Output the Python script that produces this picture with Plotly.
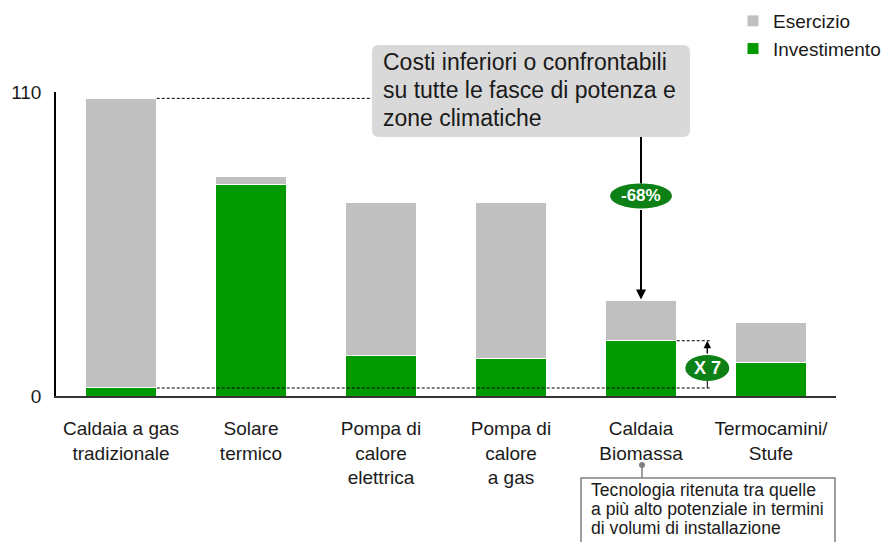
import plotly.graph_objects as go

categories = [
    "Caldaia a gas<br>tradizionale",
    "Solare<br>termico",
    "Pompa di<br>calore<br>elettrica",
    "Pompa di<br>calore<br>a gas",
    "Caldaia<br>Biomassa",
    "Termocamini/<br>Stufe",
]
investimento = [2.9, 76.5, 14.8, 13.7, 20.0, 12.3]
esercizio = [104.8, 2.8, 55.2, 56.3, 14.6, 14.4]
totale = [i + e for i, e in zip(investimento, esercizio)]

callout_lines = [
    "Costi inferiori o confrontabili",
    "su tutte le fasce di potenza e",
    "zone climatiche",
]
note_lines = [
    "Tecnologia ritenuta tra quelle",
    "a più alto potenziale in termini",
    "di volumi di installazione",
]

GREEN = "#009a00"
GREY = "#c0c0c0"
DARK_GREEN = "#0d8016"
FONT = "Liberation Sans, Arial, sans-serif"

# the page body has an 8px margin, so the figure is offset inside the window
OFF = 8
W, H = 893, 542
ML, MT = 56 - OFF, 92 - OFF
MR, MB = W - (836 - OFF), H - (396 - OFF)
PW, PH = W - ML - MR, H - MT - MB
BAR_W = 0.55


def px_x(px):
    # window pixel -> paper x
    return (px - OFF - ML) / PW


def px_y(py):
    # window pixel -> paper y
    return (H - MB - (py - OFF)) / PH


x = list(range(len(categories)))

fig = go.Figure()
fig.add_trace(go.Bar(x=x, y=investimento, name="Investimento", width=BAR_W,
                     marker=dict(color=GREEN, line=dict(color="white", width=1))))
fig.add_trace(go.Bar(x=x, y=esercizio, name="Esercizio", width=BAR_W,
                     marker=dict(color=GREY, line=dict(color="white", width=1))))

shapes = []
dot = dict(color="black", width=1, dash="3px,2px")
half = BAR_W / 2
# dotted guide lines
shapes.append(dict(type="line", xref="x", yref="y", x0=0 + half, x1=1.93,
                   y0=totale[0], y1=totale[0], line=dot))
shapes.append(dict(type="line", xref="x", yref="y", x0=0 + half, x1=4.54,
                   y0=investimento[0], y1=investimento[0], line=dot))
shapes.append(dict(type="line", xref="x", yref="y", x0=4 + half, x1=4.54,
                   y0=investimento[4], y1=investimento[4], line=dot))

# callout box with rounded corners (paper coords)
bx0, bx1, by0, by1 = px_x(372), px_x(690), px_y(137), px_y(45)
rx, ry = 7 / PW, 7 / PH
path = (f"M{bx0+rx},{by0} L{bx1-rx},{by0} Q{bx1},{by0} {bx1},{by0+ry} "
        f"L{bx1},{by1-ry} Q{bx1},{by1} {bx1-rx},{by1} L{bx0+rx},{by1} "
        f"Q{bx0},{by1} {bx0},{by1-ry} L{bx0},{by0+ry} Q{bx0},{by0} {bx0+rx},{by0} Z")
shapes.append(dict(type="path", xref="paper", yref="paper", path=path,
                   fillcolor="#d9d9d9", line=dict(width=0), layer="above"))

# -68% connector and ellipse
bar_top_px = 396 - totale[4] * PH / 110
shapes.append(dict(type="line", xref="x", yref="y", ysizemode="pixel",
                   yanchor=totale[4], x0=4, x1=4, y0=117, y1=bar_top_px - 137,
                   line=dict(color="black", width=2)))
shapes.append(dict(type="circle", xref="x", yref="y", xsizemode="pixel", ysizemode="pixel",
                   xanchor=4, yanchor=totale[4], x0=-31, x1=31, y0=92, y1=117,
                   fillcolor=DARK_GREEN, line=dict(width=0), layer="above"))

# X 7 marker
XA = 4.51
shapes.append(dict(type="line", xref="x", yref="y", ysizemode="pixel",
                   yanchor=investimento[0], x0=XA, x1=XA, y0=0, y1=8,
                   line=dict(color="black", width=1)))
shapes.append(dict(type="circle", xref="x", yref="y", xsizemode="pixel", ysizemode="pixel",
                   xanchor=XA, yanchor=investimento[0], x0=-22, x1=22, y0=7, y1=33,
                   fillcolor=DARK_GREEN, line=dict(width=0), layer="above"))

# note box under Biomassa
shapes.append(dict(type="rect", xref="paper", yref="paper",
                   x0=px_x(581), x1=px_x(835), y0=px_y(570), y1=px_y(478),
                   line=dict(color="#808080", width=1.5), fillcolor="rgba(0,0,0,0)"))
shapes.append(dict(type="line", xref="paper", yref="paper",
                   x0=px_x(642), x1=px_x(642), y0=px_y(465), y1=px_y(478),
                   line=dict(color="#808080", width=1.5)))
shapes.append(dict(type="circle", xref="paper", yref="paper",
                   x0=px_x(639), x1=px_x(645), y0=px_y(468), y1=px_y(462),
                   fillcolor="#808080", line=dict(width=0)))

annotations = []
for k, line in enumerate(callout_lines):
    annotations.append(dict(xref="paper", yref="paper", x=px_x(381), y=px_y(62 + 28 * k),
                            text=line, showarrow=False, xanchor="left", yanchor="middle",
                            font=dict(size=23, color="#1a1a1a", family=FONT)))
for k, line in enumerate(note_lines):
    annotations.append(dict(xref="paper", yref="paper", x=px_x(589), y=px_y(490 + 19 * k),
                            text=line, showarrow=False, xanchor="left", yanchor="middle",
                            font=dict(size=17.6, color="#1a1a1a", family=FONT)))
# ellipse labels
annotations.append(dict(xref="x", yref="y", x=4, y=totale[4], yshift=104.5, text="<b>-68%</b>",
                        showarrow=False, font=dict(size=17, color="white", family=FONT)))
annotations.append(dict(xref="x", yref="y", x=XA, y=investimento[0], yshift=20, text="<b>X 7</b>",
                        showarrow=False, font=dict(size=18, color="white", family=FONT)))
# arrows
annotations.append(dict(xref="x", yref="y", x=4, y=totale[4], ax=0, ay=-92, text="",
                        showarrow=True, arrowhead=2, arrowsize=1, arrowwidth=2,
                        arrowcolor="black", standoff=1))
inv_px_gap = (investimento[4] - investimento[0]) * PH / 110
annotations.append(dict(xref="x", yref="y", x=XA, y=investimento[4], ax=0, ay=inv_px_gap - 33,
                        text="", showarrow=True, arrowhead=2, arrowsize=1, arrowwidth=1.5,
                        arrowcolor="black", standoff=0))

fig.update_layout(
    width=W, height=H, autosize=False,
    margin=dict(l=ML, r=MR, t=MT, b=MB, autoexpand=False),
    barmode="stack",
    plot_bgcolor="white", paper_bgcolor="white",
    font=dict(family=FONT, color="#1a1a1a", size=19),
    legend=dict(x=px_x(733), y=px_y(2), xanchor="left", yanchor="top",
                traceorder="reversed", font=dict(size=19), bgcolor="rgba(0,0,0,0)"),
    shapes=shapes,
    annotations=annotations,
    xaxis=dict(tickvals=x, ticktext=categories, range=[-0.5, 5.5], showgrid=False,
               showline=True, linecolor="#333333", linewidth=2, ticks="", automargin=False,
               ticklabelstandoff=14, tickfont=dict(size=19)),
    yaxis=dict(range=[0, 110], tickvals=[0, 110], showgrid=False, zeroline=False,
               showline=True, linecolor="black", linewidth=1.5, ticks="", automargin=False,
               ticklabelstandoff=9, tickfont=dict(size=19)),
)

fig.write_html("out.html")
